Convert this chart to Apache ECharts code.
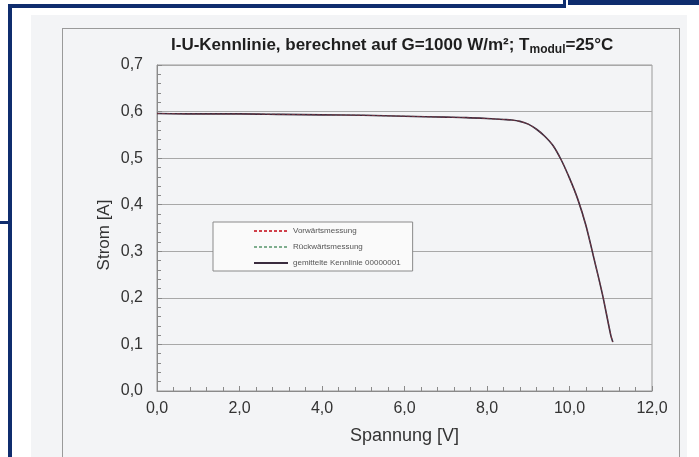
<!DOCTYPE html>
<html lang="de">
<head>
    <meta charset="UTF-8">
    <title>I-U-Kennlinie</title>
    <script src="https://cdn.jsdelivr.net/npm/echarts@6/dist/echarts.min.js"></script>
    <style>
        html, body { margin: 0; padding: 0; background: #fff; }
        #wrap { position: relative; width: 699px; height: 457px; overflow: hidden; }
        .blue { position: absolute; background: #0f2d6e; }
        #paper { position: absolute; left: 31px; top: 15px; width: 656px; height: 450px; background: #f3f4f6; }
        #box { position: absolute; left: 62px; top: 28px; width: 616px; height: 440px; border: 1px solid #9a9a9a; }
        #main { position: absolute; left: 0; top: 0; width: 699px; height: 457px; }
    </style>
</head>
<body>
<div id="wrap">
    <div id="paper"></div>
    <div id="box"></div>
    <div class="blue" style="left:8px;top:4px;width:558px;height:4px;"></div>
    <div class="blue" style="left:563px;top:0;width:3px;height:8px;"></div>
    <div class="blue" style="left:568px;top:0;width:131px;height:5px;"></div>
    <div class="blue" style="left:8px;top:4px;width:4px;height:453px;"></div>
    <div class="blue" style="left:0;top:221px;width:12px;height:3px;"></div>
    <div id="main"></div>
</div>
<script type="text/javascript">
    var spannung = [0, 1, 2, 3, 4, 5, 6, 7, 7.5, 8, 8.4, 8.6, 8.8, 9.0, 9.2, 9.4, 9.6, 9.8, 10.0, 10.2, 10.4, 10.6, 10.8, 11.0, 11.05];
    var vorwaerts = [0.596, 0.595, 0.595, 0.594, 0.593, 0.592, 0.590, 0.588, 0.587, 0.585, 0.583, 0.582, 0.579, 0.573, 0.562, 0.547, 0.527, 0.496, 0.457, 0.412, 0.355, 0.282, 0.207, 0.120, 0.105];
    var rueckwaerts = [0.596, 0.595, 0.595, 0.594, 0.593, 0.592, 0.590, 0.588, 0.587, 0.585, 0.583, 0.582, 0.579, 0.573, 0.562, 0.547, 0.527, 0.496, 0.457, 0.412, 0.355, 0.282, 0.207, 0.120, 0.105];
    var gemittelt = [0.596, 0.595, 0.595, 0.594, 0.593, 0.592, 0.590, 0.588, 0.587, 0.585, 0.583, 0.582, 0.579, 0.573, 0.562, 0.547, 0.527, 0.496, 0.457, 0.412, 0.355, 0.282, 0.207, 0.120, 0.105];
    var namen = ['Vorwärtsmessung', 'Rückwärtsmessung', 'gemittelte Kennlinie 00000001'];

    function pts(ys) {
        return spannung.map(function (v, i) { return [v, ys[i]]; });
    }
    function komma(v) { return v.toFixed(1).replace('.', ','); }

    var myChart = echarts.init(document.getElementById('main'));
    var option = {
        backgroundColor: 'transparent',
        animation: false,
        textStyle: { fontFamily: 'Liberation Sans, Arial, sans-serif' },
        title: {
            left: 166,
            top: 30,
            text: '{a|I-U-Kennlinie, berechnet auf G=1000 W/m²; T}{s|modul}{a|=25°C}',
            textStyle: {
                rich: {
                    a: { fontSize: 17, fontWeight: 'bold', color: '#1e1e1e', fontFamily: 'Liberation Sans' },
                    s: { fontSize: 12, fontWeight: 'bold', color: '#1e1e1e', fontFamily: 'Liberation Sans', padding: [9, 0, 0, 0] }
                }
            }
        },
        grid: {
            left: 157, right: 47, top: 65, bottom: 66,
            show: true, borderColor: '#9a9a9a', borderWidth: 1
        },
        legend: {
            orient: 'vertical',
            left: 213,
            top: 222,
            data: namen,
            backgroundColor: '#fafafa',
            borderColor: '#8a8a8a',
            borderWidth: 1,
            borderRadius: 0,
            padding: [5, 12, 4, 40],
            itemWidth: 34,
            itemHeight: 8,
            itemGap: 8,
            itemStyle: { opacity: 0 },
            lineStyle: { opacity: 1 },
            textStyle: { fontSize: 8, color: '#555', fontFamily: 'Liberation Sans' }
        },
        graphic: [{
            type: 'text',
            x: 104,
            y: 235,
            rotation: Math.PI / 2,
            style: {
                text: 'Strom [A]',
                fontSize: 17,
                fontFamily: 'Liberation Sans',
                fill: '#333',
                align: 'center',
                verticalAlign: 'middle'
            }
        }],
        xAxis: {
            type: 'value',
            min: 0, max: 12, interval: 2,
            name: 'Spannung [V]',
            nameLocation: 'middle',
            nameGap: 36,
            nameTextStyle: { fontSize: 18, color: '#333' },
            axisLine: { lineStyle: { color: '#8a8a8a' } },
            axisTick: { inside: true, length: 5, lineStyle: { color: '#8a8a8a' } },
            minorTick: { show: true, splitNumber: 5, length: 4, lineStyle: { color: '#8a8a8a' } },
            axisLabel: { formatter: komma, fontSize: 16, color: '#333', margin: 10 },
            splitLine: { show: false }
        },
        yAxis: {
            type: 'value',
            min: 0, max: 0.7, interval: 0.1,
            axisLine: { show: true, lineStyle: { color: '#8a8a8a' } },
            axisTick: { show: true, inside: true, length: 5, lineStyle: { color: '#8a8a8a' } },
            minorTick: { show: true, splitNumber: 5, length: 4, lineStyle: { color: '#8a8a8a' } },
            axisLabel: { formatter: komma, fontSize: 16, color: '#333', margin: 14 },
            splitLine: { show: true, lineStyle: { color: '#a8a8a8', width: 1 } }
        },
        series: [
            {
                name: namen[1], type: 'line', data: pts(rueckwaerts), showSymbol: false, symbol: 'none',
                lineStyle: { color: '#7fae8e', width: 1, type: [3, 2] }, itemStyle: { color: '#7fae8e' }
            },
            {
                name: namen[2], type: 'line', data: pts(gemittelt), showSymbol: false, symbol: 'none', smooth: 0.3,
                lineStyle: { color: '#3a2c3e', width: 1.6 }, itemStyle: { color: '#3a2c3e' }
            },
            {
                name: namen[0], type: 'line', data: pts(vorwaerts), showSymbol: false, symbol: 'none', smooth: 0.3,
                lineStyle: { color: '#d0404a', width: 0.8, type: [3, 2], opacity: 0.5 }, itemStyle: { color: '#d0404a' }
            }
        ]
    };
    myChart.setOption(option);
</script>
</body>
</html>
